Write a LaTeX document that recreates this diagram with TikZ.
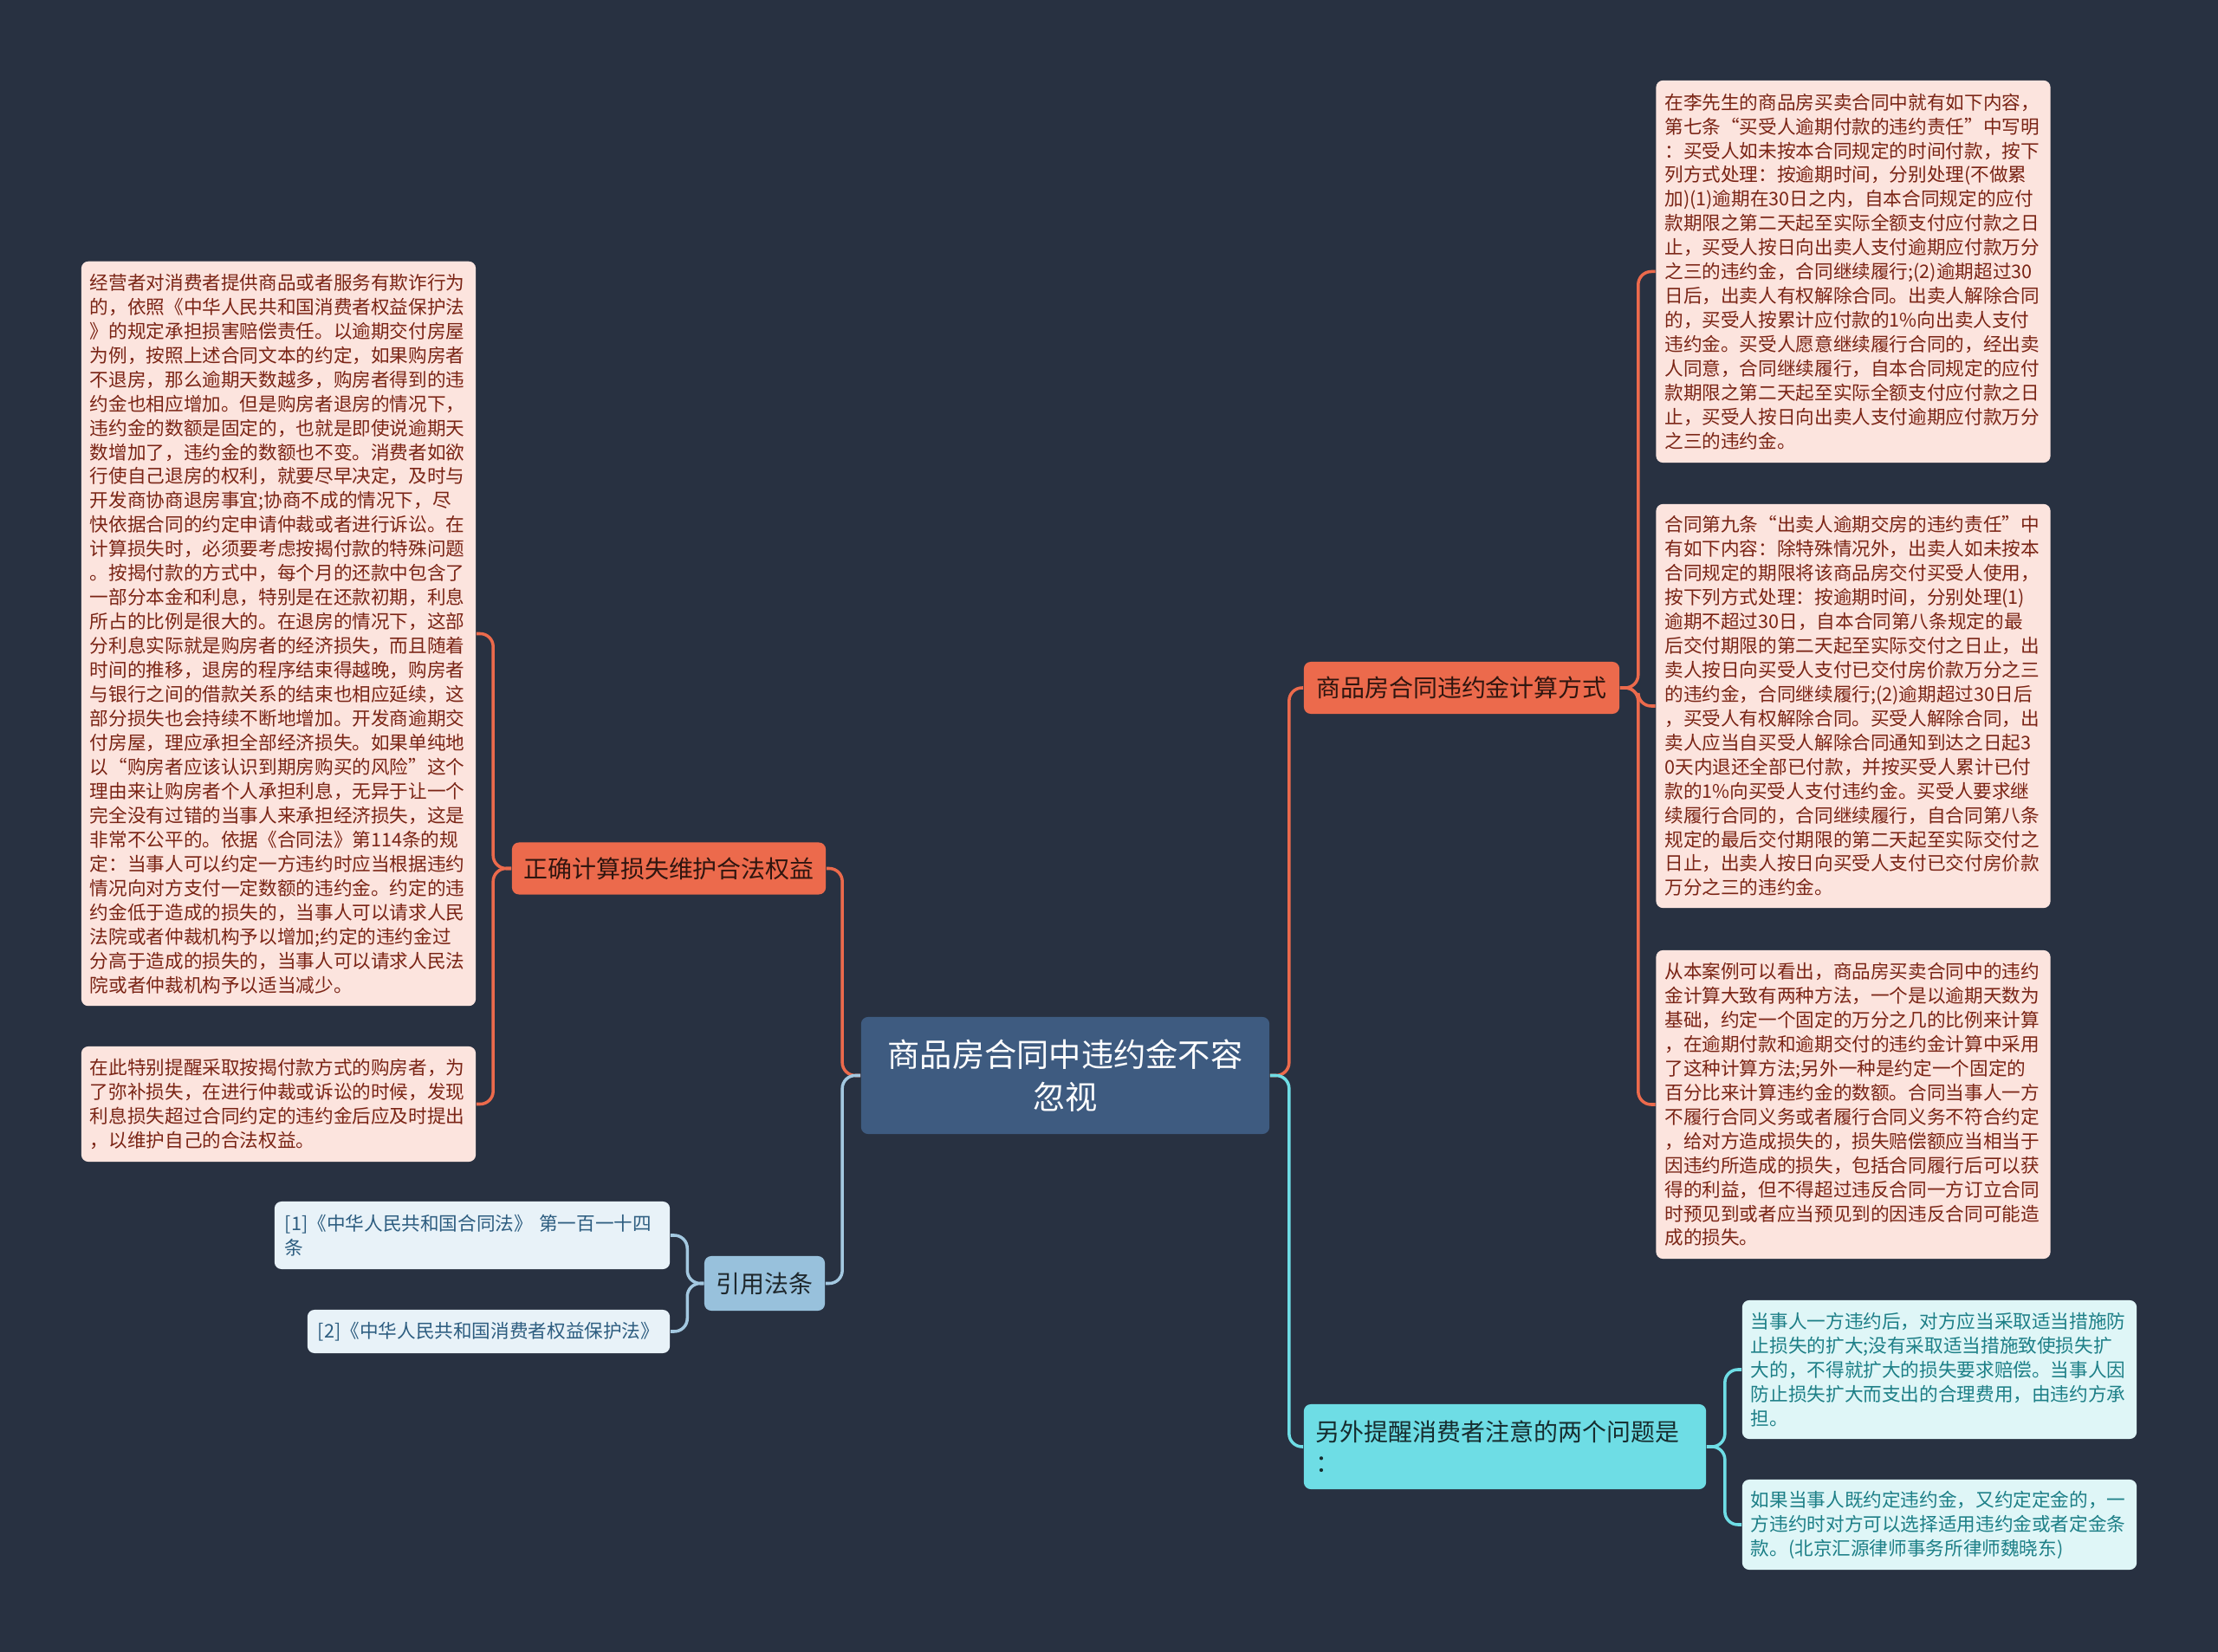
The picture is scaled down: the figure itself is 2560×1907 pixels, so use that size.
\documentclass[tikz,border=0pt]{standalone}
\usepackage{fontspec}
\setmainfont{Noto Sans CJK SC}
\definecolor{bgnavy}{HTML}{283141}
\definecolor{rootblue}{HTML}{3E5B80}
\definecolor{topicorange}{HTML}{EC6A4C}
\definecolor{topiccyan}{HTML}{6EDDE5}
\definecolor{topicsteel}{HTML}{98C1DC}
\definecolor{notepink}{HTML}{FCE4DE}
\definecolor{notered}{HTML}{7A2415}
\definecolor{notecyan}{HTML}{DFF6F7}
\definecolor{noteteal}{HTML}{1D7F87}
\definecolor{noteblue}{HTML}{E8F2F8}
\definecolor{notenavy}{HTML}{2D5D80}
\definecolor{linksteel}{HTML}{A3C8E0}

\begin{document}
\begin{tikzpicture}[
    x=0.01cm, y=-0.01cm,
    every node/.style={rounded corners=0.8mm, inner ysep=0.04cm},
    roottopic/.style={fill=rootblue, text=white, align=center, minimum width=4.71cm, minimum height=1.35cm,
      font=\fontsize{10.6pt}{13.9pt}\selectfont},
    orangetopic/.style={fill=topicorange, text=black!80!topicorange, minimum height=0.6cm,
      font=\fontsize{7.95pt}{10.2pt}\selectfont},
    cyantopic/.style={fill=topiccyan, text=black!80!topiccyan, align=left, text width=4.36cm, inner xsep=0.14cm,
      font=\fontsize{7.95pt}{10.2pt}\selectfont},
    steeltopic/.style={fill=topicsteel, text=black!80!topicsteel, minimum width=1.39cm, minimum height=0.63cm,
      font=\fontsize{7.95pt}{10.2pt}\selectfont},
    pinknote/.style={fill=notepink, text=notered, align=left, text width=4.35cm, inner xsep=0.1cm,
      font=\fontsize{6.15pt}{7.95pt}\selectfont},
    cyannote/.style={pinknote, fill=notecyan, text=noteteal},
    bluenote/.style={pinknote, fill=noteblue, text=notenavy, inner xsep=0.12cm},
    orangelink/.style={draw=topicorange, line width=1pt, rounded corners=0.15cm},
    cyanlink/.style={orangelink, draw=topiccyan},
    steellink/.style={orangelink, draw=linksteel}
  ]
  \fill[bgnavy] (0,0) rectangle (2560,1907);

  % centre
  \node[roottopic] (root) at (1229.5,1241.5) {商品房合同中违约金不容\\忽视};

  % left side
  \node[orangetopic, minimum width=3.62cm] (losstopic) at (772,1002.5) {正确计算损失维护合法权益};
  \node[pinknote, minimum height=8.59cm] (lossnote) at (321.5,731.5) {经营者对消费者提供商品或者服务有欺诈行为\\
的，依照《中华人民共和国消费者权益保护法\\
》的规定承担损害赔偿责任。以逾期交付房屋\\
为例，按照上述合同文本的约定，如果购房者\\
不退房，那么逾期天数越多，购房者得到的违\\
约金也相应增加。但是购房者退房的情况下，\\
违约金的数额是固定的，也就是即使说逾期天\\
数增加了，违约金的数额也不变。消费者如欲\\
行使自己退房的权利，就要尽早决定，及时与\\
开发商协商退房事宜;协商不成的情况下，尽\\
快依据合同的约定申请仲裁或者进行诉讼。在\\
计算损失时，必须要考虑按揭付款的特殊问题\\
。按揭付款的方式中，每个月的还款中包含了\\
一部分本金和利息，特别是在还款初期，利息\\
所占的比例是很大的。在退房的情况下，这部\\
分利息实际就是购房者的经济损失，而且随着\\
时间的推移，退房的程序结束得越晚，购房者\\
与银行之间的借款关系的结束也相应延续，这\\
部分损失也会持续不断地增加。开发商逾期交\\
付房屋，理应承担全部经济损失。如果单纯地\\
以“购房者应该认识到期房购买的风险”这个\\
理由来让购房者个人承担利息，无异于让一个\\
完全没有过错的当事人来承担经济损失，这是\\
非常不公平的。依据《合同法》第114条的规\\
定：当事人可以约定一方违约时应当根据违约\\
情况向对方支付一定数额的违约金。约定的违\\
约金低于造成的损失的，当事人可以请求人民\\
法院或者仲裁机构予以增加;约定的违约金过\\
分高于造成的损失的，当事人可以请求人民法\\
院或者仲裁机构予以适当减少。};
  \node[pinknote, minimum height=1.33cm] (mortgagenote) at (321.5,1274.5) {在此特别提醒采取按揭付款方式的购房者，为\\
了弥补损失，在进行仲裁或诉讼的时候，发现\\
利息损失超过合同约定的违约金后应及时提出\\
，以维护自己的合法权益。};

  \node[steeltopic] (lawtopic) at (882.5,1481.5) {引用法条};
  \node[bluenote, text width=4.32cm, minimum height=0.78cm] (lawref1) at (545,1426) {[1]《中华人民共和国合同法》~第一百一十四\\条};
  \node[bluenote, text width=3.94cm, minimum height=0.5cm] (lawref2) at (564,1537) {[2]《中华人民共和国消费者权益保护法》};

  % right side
  \node[orangetopic, minimum width=3.64cm] (calctopic) at (1687,794) {商品房合同违约金计算方式};
  \node[pinknote, minimum height=4.41cm] (buyernote) at (2139,313.5) {在李先生的商品房买卖合同中就有如下内容，\\
第七条“买受人逾期付款的违约责任”中写明\\
：买受人如未按本合同规定的时间付款，按下\\
列方式处理：按逾期时间，分别处理(不做累\\
加)(1)逾期在30日之内，自本合同规定的应付\\
款期限之第二天起至实际全额支付应付款之日\\
止，买受人按日向出卖人支付逾期应付款万分\\
之三的违约金，合同继续履行;(2)逾期超过30\\
日后，出卖人有权解除合同。出卖人解除合同\\
的，买受人按累计应付款的1\%向出卖人支付\\
违约金。买受人愿意继续履行合同的，经出卖\\
人同意，合同继续履行，自本合同规定的应付\\
款期限之第二天起至实际全额支付应付款之日\\
止，买受人按日向出卖人支付逾期应付款万分\\
之三的违约金。};
  \node[pinknote, minimum height=4.66cm] (sellernote) at (2139,815) {合同第九条“出卖人逾期交房的违约责任”中\\
有如下内容：除特殊情况外，出卖人如未按本\\
合同规定的期限将该商品房交付买受人使用，\\
按下列方式处理：按逾期时间，分别处理(1)\\
逾期不超过30日，自本合同第八条规定的最\\
后交付期限的第二天起至实际交付之日止，出\\
卖人按日向买受人支付已交付房价款万分之三\\
的违约金，合同继续履行;(2)逾期超过30日后\\
，买受人有权解除合同。买受人解除合同，出\\
卖人应当自买受人解除合同通知到达之日起3\\
0天内退还全部已付款，并按买受人累计已付\\
款的1\%向买受人支付违约金。买受人要求继\\
续履行合同的，合同继续履行，自合同第八条\\
规定的最后交付期限的第二天起至实际交付之\\
日止，出卖人按日向买受人支付已交付房价款\\
万分之三的违约金。};
  \node[pinknote, minimum height=3.56cm] (methodnote) at (2139,1275) {从本案例可以看出，商品房买卖合同中的违约\\
金计算大致有两种方法，一个是以逾期天数为\\
基础，约定一个固定的万分之几的比例来计算\\
，在逾期付款和逾期交付的违约金计算中采用\\
了这种计算方法;另外一种是约定一个固定的\\
百分比来计算违约金的数额。合同当事人一方\\
不履行合同义务或者履行合同义务不符合约定\\
，给对方造成损失的，损失赔偿额应当相当于\\
因违约所造成的损失，包括合同履行后可以获\\
得的利益，但不得超过违反合同一方订立合同\\
时预见到或者应当预见到的因违反合同可能造\\
成的损失。};

  \node[cyantopic, minimum height=0.98cm] (remindtopic) at (1737,1670) {另外提醒消费者注意的两个问题是\\：};
  \node[cyannote, minimum height=1.6cm] (lossnote2) at (2238.5,1581) {当事人一方违约后，对方应当采取适当措施防\\
止损失的扩大;没有采取适当措施致使损失扩\\
大的，不得就扩大的损失要求赔偿。当事人因\\
防止损失扩大而支出的合理费用，由违约方承\\
担。};
  \node[cyannote, minimum height=1.04cm] (depositnote) at (2238.5,1760) {如果当事人既约定违约金，又约定定金的，一\\
方违约时对方可以选择适用违约金或者定金条\\
款。(北京汇源律师事务所律师魏晓东)};

  % connectors
  \draw[orangelink] (root.west) -- ++(-21,0) |- (losstopic.east);
  \draw[steellink] (root.west) -- ++(-21,0) |- (lawtopic.east);
  \draw[orangelink] (losstopic.west) -- ++(-21,0) |- (lossnote.east);
  \draw[orangelink] (losstopic.west) -- ++(-21,0) |- (mortgagenote.east);
  \draw[steellink] (lawtopic.west) -- ++(-19,0) |- (lawref1.east);
  \draw[steellink] (lawtopic.west) -- ++(-19,0) |- (lawref2.east);
  \draw[orangelink] (root.east) -- ++(22,0) |- (calctopic.west);
  \draw[cyanlink] (root.east) -- ++(22,0) |- (remindtopic.west);
  \draw[orangelink] (calctopic.east) -- ++(21,0) |- (buyernote.west);
  \draw[orangelink] (calctopic.east) -- ++(21,0) |- (sellernote.west);
  \draw[orangelink] (calctopic.east) -- ++(21,0) |- (methodnote.west);
  \draw[cyanlink] (remindtopic.east) -- ++(21,0) |- (lossnote2.west);
  \draw[cyanlink] (remindtopic.east) -- ++(21,0) |- (depositnote.west);
\end{tikzpicture}
\end{document}
